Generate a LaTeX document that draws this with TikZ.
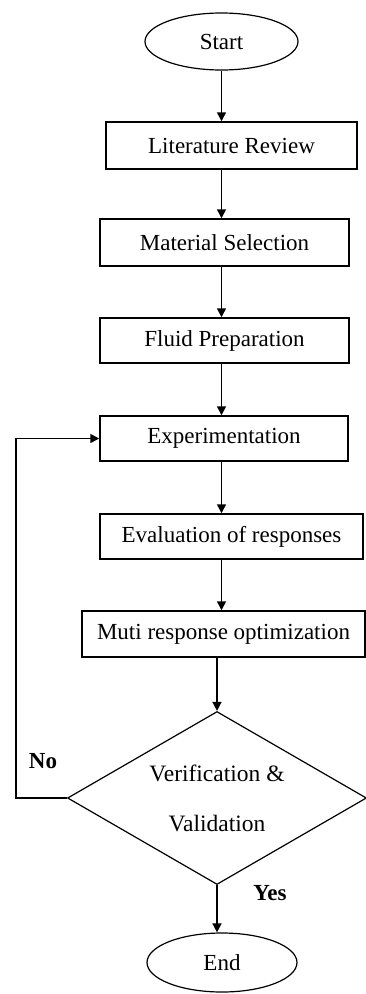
\documentclass[tikz,border=0pt]{standalone}
\usepackage{fontspec}
\setmainfont{Liberation Serif}
\usepackage{tikz}
\usetikzlibrary{arrows.meta,shapes.geometric,positioning,calc}

\begin{document}
\begin{tikzpicture}[x=1pt, y=-1pt,
  box/.style={draw, line width=1.5pt, rectangle, inner sep=0pt, font=\fontsize{23}{27}\selectfont},
  term/.style={draw, line width=1.2pt, ellipse, inner sep=0pt, font=\fontsize{23}{27}\selectfont},
  lab/.style={font=\bfseries\fontsize{23}{27}\selectfont},
  arr/.style={-{Triangle[length=9pt,width=9pt]}, line width=1.5pt}]
  \useasboundingbox (0,0) rectangle (366,994);
  % main column
  \node[term, minimum width=153pt, minimum height=57pt] (start) at (221.5,41.5) {Start};
  \node[box, minimum width=251pt, minimum height=47pt] (lit) at (231.5,145.5) {Literature Review};
  \node[box, minimum width=249pt, minimum height=47pt] (mat) at (224.5,242.5) {Material Selection};
  \node[box, minimum width=249pt, minimum height=45pt] (fluid) at (224.5,340.5) {Fluid Preparation};
  \node[box, minimum width=248pt, minimum height=45pt] (exp) at (224,438.5) {Experimentation};
  \node[box, minimum width=263pt, minimum height=45pt] (eval) at (231.5,536.5) {Evaluation of responses};
  \node[box, minimum width=283pt, minimum height=46pt] (muti) at (223.5,634) {Muti response optimization};
  \node[draw, line width=1.2pt, diamond, aspect=1.73, inner sep=0pt, minimum width=299pt, minimum height=173pt,
        align=center, font=\fontsize{23.5}{50}\selectfont] (dia) at (217,798) {Verification \&\\Validation};
  \node[term, minimum width=150pt, minimum height=59pt] (end) at (222,962.5) {End};
  % labels
  \node[lab] (no) at (43,761) {No};
  \node[lab] (yes) at (270,893) {Yes};
  % arrows
  \draw[arr] (start.south) -- (start.south |- lit.north);
  \draw[arr] (lit.south -| start) -- (mat.north -| start);
  \draw[arr] (mat.south -| start) -- (fluid.north -| start);
  \draw[arr] (fluid.south -| start) -- (exp.north -| start);
  \draw[arr] (exp.south -| start) -- (eval.north -| start);
  \draw[arr] (eval.south -| start) -- (muti.north -| start);
  \draw[arr] (muti.south -| dia) -- (dia.north);
  \draw[arr] (dia.south) -- (dia.south |- end.north);
  % loop back
  \draw[arr] (dia.west) -- ++(-51,0) |- (exp.west);
\end{tikzpicture}
\end{document}
